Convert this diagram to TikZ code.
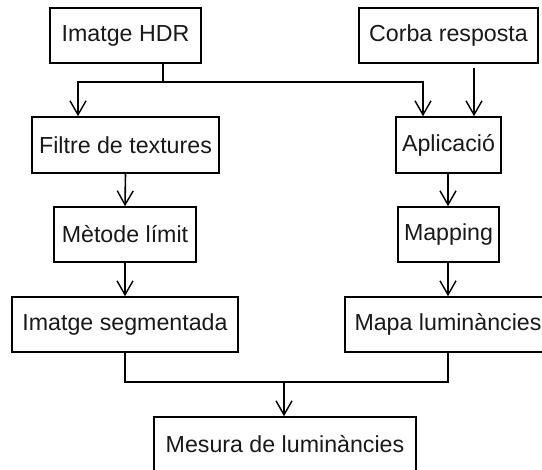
\documentclass[tikz,border=0pt]{standalone}
\usepackage{fontspec}
\setmainfont{Liberation Sans}
\usetikzlibrary{arrows.meta}
\begin{document}
\begin{tikzpicture}[x=1pt,y=-1pt,
  box/.style={draw=black,line width=1.6pt,inner sep=0pt,minimum height=55pt,
    font=\fontsize{23.2}{28}\selectfont,text=black!90},
  link/.style={draw=black,line width=1.6pt},
  arr/.style={link,-{Straight Barb[length=14pt,width=16pt,line width=1.4pt]}}]
\useasboundingbox (0,0) rectangle (542,470);
\clip (0,0) rectangle (542,470);
\node[box,minimum width=151pt] (hdr) at (125.5,35.5) {Imatge HDR};
\node[box,minimum width=179pt] (corba) at (448.5,35.5) {Corba resposta};
\node[box,minimum width=187pt,minimum height=56pt] (filtre) at (125.5,145) {Filtre de textures};
\node[box,minimum width=105pt,minimum height=56pt] (aplic) at (448.5,145) {Aplicació};
\node[box,minimum width=142pt] (metode) at (125,234.5) {Mètode límit};
\node[box,minimum width=101pt] (mapping) at (448.5,234.5) {Mapping};
\node[box,minimum width=226pt] (seg) at (125,324.5) {Imatge segmentada};
\node[box,minimum width=206pt] (mapa) at (448,324.5) {Mapa luminàncies};
\node[box,minimum width=262pt,minimum height=54pt] (mesura) at (285,444) {Mesura de luminàncies};
\coordinate (jt) at (163,82);
\coordinate (fa) at (78,0);
\coordinate (aa) at (423,0);
\coordinate (ca) at (474,0);
\coordinate (jb) at (284,382);
\draw[link] (hdr.south -| jt) -- (jt);
\draw[arr] (jt) -| (filtre.north -| fa);
\draw[arr] (jt) -| (aplic.north -| aa);
\draw[arr] ([yshift=-4pt]corba.south -| ca) -- (aplic.north -| ca);
\draw[arr] (filtre.south) -- (metode.north);
\draw[arr] (aplic.south -| mapa.south) -- (mapping.north -| mapa.south);
\draw[arr] (metode.south) -- (seg.north);
\draw[arr] (mapping.south -| mapa.south) -- (mapa.north);
\draw[link] (seg.south) |- (jb) -| (mapa.south);
\draw[arr] (jb) -- (mesura.north -| jb);
\end{tikzpicture}
\end{document}
